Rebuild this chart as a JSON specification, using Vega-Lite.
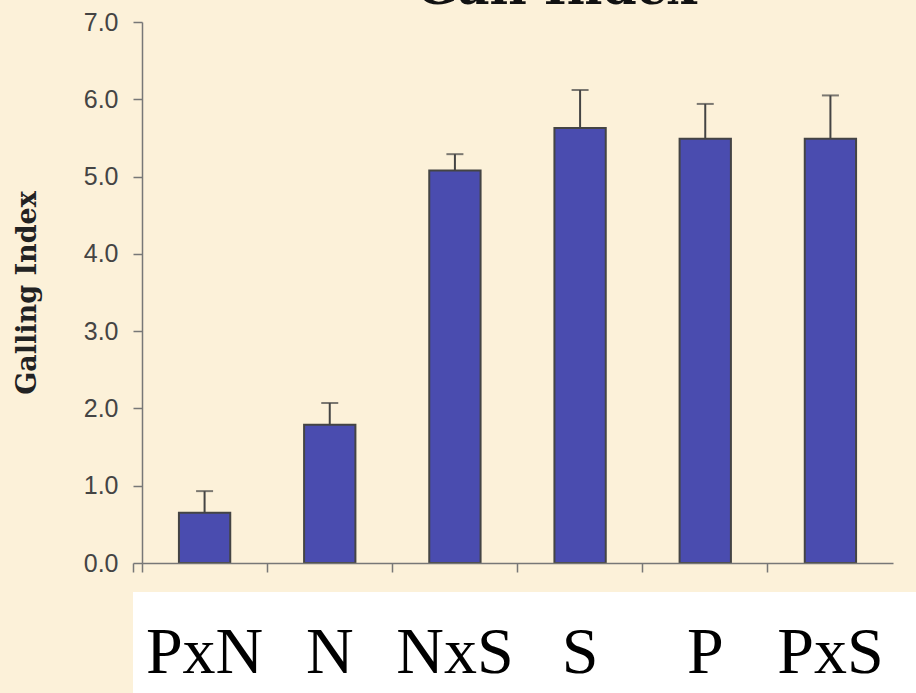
{
  "$schema": "https://vega.github.io/schema/vega-lite/v6.json",
  "autosize": "none",
  "padding": {"left": 133, "top": 22, "right": 0, "bottom": 0},
  "width": 783,
  "height": 671,
  "background": "#FCF1D9",
  "config": {"view": {"stroke": null}},
  "title": {
    "text": "Gall Index",
    "font": "DejaVu Serif",
    "fontWeight": "bold",
    "fontSize": 49,
    "color": "#111111",
    "anchor": "middle",
    "frame": "group",
    "baseline": "alphabetic",
    "offset": 0,
    "dy": 43,
    "dx": 32
  },
  "data": {
    "values": [
      {"treatment": "PxN", "index": 0.65, "upper": 0.93},
      {"treatment": "N", "index": 1.79, "upper": 2.07},
      {"treatment": "NxS", "index": 5.08, "upper": 5.29},
      {"treatment": "S", "index": 5.63, "upper": 6.12},
      {"treatment": "P", "index": 5.49, "upper": 5.94},
      {"treatment": "PxS", "index": 5.49, "upper": 6.05}
    ]
  },
  "encoding": {
    "x": {
      "field": "treatment",
      "type": "nominal",
      "sort": null,
      "scale": {"range": [9, 760], "paddingInner": 0, "paddingOuter": 0},
      "axis": {
        "title": null,
        "offset": -130,
        "bandPosition": 0,
        "tickExtra": true,
        "tickSize": 9,
        "tickColor": "#777777",
        "tickWidth": 1.5,
        "domainColor": "#777777",
        "domainWidth": 1.5,
        "labelAngle": 0,
        "labelFont": "Liberation Serif",
        "labelFontSize": 66,
        "labelColor": "#000000",
        "labelBaseline": "alphabetic",
        "labelPadding": 100,
        "zindex": 2
      }
    }
  },
  "layer": [
    {
      "mark": {"type": "rect", "fill": "#FFFFFF", "stroke": null},
      "encoding": {
        "x": null,
        "y": {"datum": -0.375, "type": "quantitative"},
        "y2": {"datum": -1.69}
      }
    },
    {
      "mark": {"type": "bar", "fill": "#4A4CAF", "stroke": "#444444", "strokeWidth": 2, "width": {"band": 0.41}},
      "encoding": {
        "y": {
          "field": "index",
          "type": "quantitative",
          "scale": {"domain": [0, 7], "range": [541, 0], "nice": false, "zero": true},
          "axis": {
            "title": "Galling Index",
            "titleFont": "DejaVu Serif",
            "titleFontWeight": "bold",
            "titleFontSize": 27,
            "titleColor": "#222222",
            "titlePadding": 42,
            "values": [0, 1, 2, 3, 4, 5, 6, 7],
            "format": ".1f",
            "offset": -9,
            "grid": false,
            "tickSize": 9,
            "tickColor": "#777777",
            "tickWidth": 1.5,
            "domainColor": "#777777",
            "domainWidth": 1.5,
            "labelFont": "Liberation Sans",
            "labelFontSize": 25,
            "labelColor": "#444444",
            "labelPadding": 15
          }
        }
      }
    },
    {
      "mark": {"type": "rule", "color": "#444444", "strokeWidth": 2},
      "encoding": {
        "y": {"field": "index", "type": "quantitative"},
        "y2": {"field": "upper"}
      }
    },
    {
      "mark": {"type": "tick", "color": "#444444", "thickness": 2, "size": 17},
      "encoding": {
        "y": {"field": "upper", "type": "quantitative"}
      }
    }
  ]
}
